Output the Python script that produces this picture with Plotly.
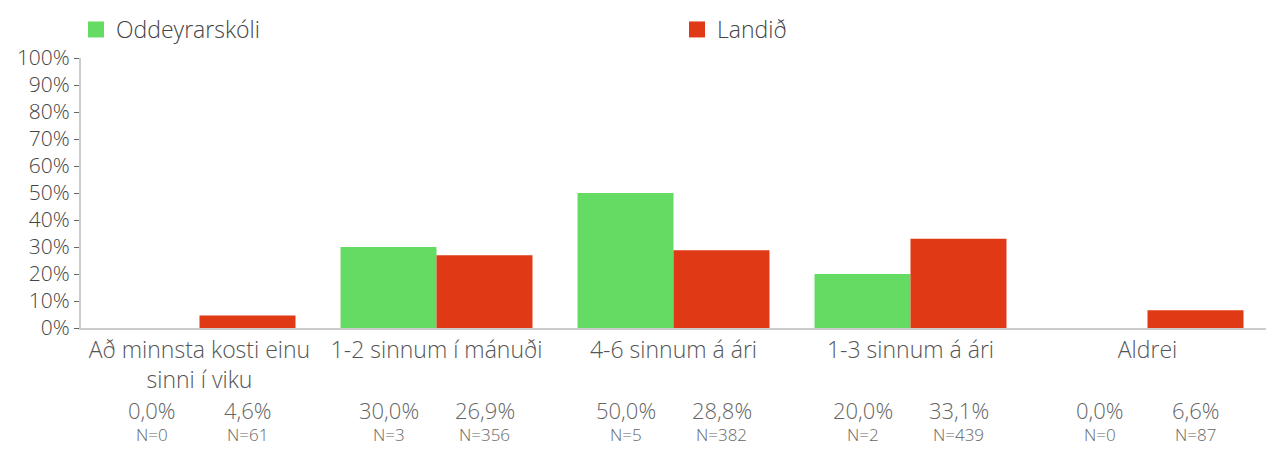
import plotly.graph_objects as go

flokkar = ["Að minnsta kosti einu<br>sinni í viku", "1-2 sinnum í mánuði",
           "4-6 sinnum á ári", "1-3 sinnum á ári", "Aldrei"]
skoli = [0.0, 30.0, 50.0, 20.0, 0.0]
landid = [4.6, 26.9, 28.8, 33.1, 6.6]
n_skoli = [0, 3, 5, 2, 0]
n_landid = [61, 356, 382, 439, 87]

GRAENT = "#64dc64"
RAUTT = "#df3915"
FONT = "Open Sans"

fig = go.Figure()
fig.add_trace(go.Bar(x=flokkar, y=skoli, name="Oddeyrarskóli", marker_color=GRAENT,
                     marker_line_width=0, showlegend=False))
fig.add_trace(go.Bar(x=flokkar, y=landid, name="Landið", marker_color=RAUTT,
                     marker_line_width=0, showlegend=False))

# skýringar með stærri ferningum, hvor í sinni skýringu
for nafn, litur, leg in [("Oddeyrarskóli", GRAENT, "legend"), ("Landið", RAUTT, "legend2")]:
    fig.add_trace(go.Scatter(x=[None], y=[None], mode="markers", name=nafn, legend=leg,
                             marker=dict(symbol="square", size=17, color=litur)))

# prósentur og N undir hverri súlu
for i, f in enumerate(flokkar):
    for val, n, shift in [(skoli[i], n_skoli[i], -48), (landid[i], n_landid[i], 48)]:
        fig.add_annotation(x=f, xref="x", y=-0.305, yref="paper", xshift=shift,
                           yanchor="middle",
                           text=f"{val:.1f}%".replace(".", ","), showarrow=False,
                           font=dict(size=22, color="#666", family=FONT, weight=300))
        fig.add_annotation(x=f, xref="x", y=-0.395, yref="paper", xshift=shift,
                           yanchor="middle",
                           text=f"N={n}", showarrow=False,
                           font=dict(size=17, color="#666", family=FONT, weight=300))

W, H = 1258, 438
leg_font = dict(size=23, color="#444", family=FONT, weight=300)
fig.update_layout(
    width=W, height=H,
    margin=dict(l=73, r=0, t=50, b=118),
    plot_bgcolor="white", paper_bgcolor="white",
    barmode="group", bargap=0.19, bargroupgap=0,
    font=dict(family=FONT, color="#444"),
    legend=dict(orientation="h", x=68 / W, xanchor="left", xref="container",
                y=1, yanchor="top", yref="container", font=leg_font),
    legend2=dict(orientation="h", x=669 / W, xanchor="left", xref="container",
                 y=1, yanchor="top", yref="container", font=leg_font),
    showlegend=True,
)
fig.update_yaxes(range=[0, 100], dtick=10, ticksuffix="%", showgrid=False,
                 showline=True, linecolor="#cccccc", linewidth=2,
                 ticks="outside", ticklen=5, tickcolor="#666", automargin=False,
                 tickfont=dict(size=21, color="#444", family=FONT, weight=300),
                 zeroline=False)
fig.update_xaxes(showline=True, linecolor="#cccccc", linewidth=2, ticks="",
                 automargin=False,
                 tickfont=dict(size=23, color="#555", family=FONT, weight=300))

fig.write_html("out.html")
